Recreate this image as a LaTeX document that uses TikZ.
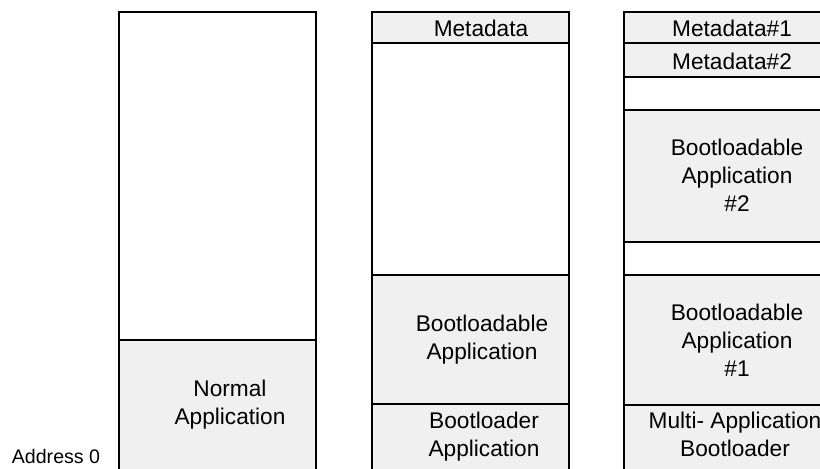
\documentclass[tikz,border=0pt]{standalone}
\usepackage{fontspec}
\setmainfont{Liberation Sans}
\usepackage{tikz}
\definecolor{cellgrey}{RGB}{240,240,240}

\begin{document}
\begin{tikzpicture}[x=0.75pt,y=0.75pt,yscale=-1,xscale=1,
	memcell/.style={draw=black, line width=1.5pt, fill=cellgrey},
	freecell/.style={draw=black, line width=1.5pt, fill=white},
	celltext/.style={inner sep=0.75pt, align=center, font=\fontsize{17}{21}\selectfont}]
	\clip (0,0) rectangle (820,468);
	
	%Rect: normal layout
	\draw [freecell] (119,12) rectangle (316,340);
	\draw [memcell] (119,340) rectangle (316,478);
	
	%Rect: single bootloadable layout
	\draw [memcell] (372,12) rectangle (569,43);
	\draw [freecell] (372,43) rectangle (569,275);
	\draw [memcell] (372,275) rectangle (569,404);
	\draw [memcell] (372,404) rectangle (569,478);
	
	%Rect: multi application layout
	\draw [memcell] (624,12) rectangle (822,43);
	\draw [memcell] (624,43) rectangle (822,77);
	\draw [freecell] (624,77) rectangle (822,110);
	\draw [memcell] (624,110) rectangle (822,242);
	\draw [freecell] (624,242) rectangle (822,275);
	\draw [memcell] (624,275) rectangle (822,405);
	\draw [memcell] (624,405) rectangle (822,478);
	
	% Text Node
	\node [celltext, inner sep=0pt, font=\fontsize{14.7}{17}\selectfont] (addrzero) at (56,456) {Address 0};
	% Text Node
	\node [celltext] (normalapp) at (230,405) {Normal\\Application};
	% Text Node
	\node [celltext] (meta) at (481,28) {Metadata};
	% Text Node
	\node [celltext] (bootapp) at (482,340) {Bootloadable\\Application};
	% Text Node
	\node [celltext] (loaderapp) at (484,437) {Bootloader\\Application};
	% Text Node
	\node [celltext] (metaone) at (732,28) {Metadata\#1};
	% Text Node
	\node [celltext] (metatwo) at (732,61) {Metadata\#2};
	% Text Node
	\node [celltext] (bootapptwo) at (737,175) {Bootloadable\\Application\\\#2};
	% Text Node
	\node [celltext] (bootappone) at (737,340) {Bootloadable\\Application\\\#1};
	% Text Node
	\node [celltext] (multiloader) at (735,434) {Multi- Application\\Bootloader};
	
\end{tikzpicture}
\end{document}
